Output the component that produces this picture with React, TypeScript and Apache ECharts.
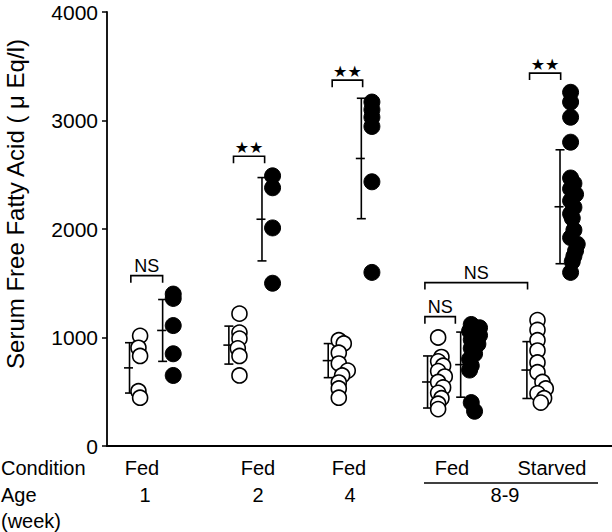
import React, { useEffect, useRef } from "react";
import * as echarts from "echarts";

// ---- data ----
const yTicks = [0, 1000, 2000, 3000, 4000];
const conditions = ["Fed", "Fed", "Fed", "Fed", "Starved"];
const ages = ["1", "2", "4", "8-9"];

// x positions (units) of each group's open (control) and filled columns
const openX = [1, 4, 7, 10, 13];
const filledX = [2, 5, 8, 11, 14];

const open1 = [1015, 905, 830, 505, 445];
const open2 = [1220, 1045, 990, 900, 830, 650];
const open3 = [975, 945, 860, 760, 695, 650, 585, 530, 445];
const open4 = [1000, 820, 780, 740, 690, 640, 590, 540, 490, 440, 390, 340];
const open5 = [1160, 1070, 975, 880, 770, 680, 590, 530, 485, 440, 400];

const filled1 = [1400, 1360, 1110, 850, 650];
const filled2 = [2490, 2380, 2010, 1500];
const filled3 = [3170, 3100, 3030, 2945, 2435, 1600];
const filled4 = [1120, 1090, 1060, 1020, 980, 940, 900, 850, 800, 740, 700, 400, 320];
const filled5 = [3260, 3170, 3030, 2800, 2470, 2420, 2370, 2320, 2260, 2200, 2140, 2100, 1990, 1920, 1860, 1800, 1750, 1700, 1600];

// small horizontal jitter (units) per point
const openJitter1 = [0, -0.05, 0, -0.05, 0];
const openJitter2 = [0, 0, 0, -0.05, 0, 0];
const openJitter3 = [0, 0.15, 0, 0, 0.27, 0.1, 0, 0, 0];
const openJitter4 = [0, 0.1, 0, 0.15, 0, 0.2, 0, 0.15, 0, 0.1, 0, 0];
const openJitter5 = [0, 0, 0, 0, 0, 0, 0.15, 0.25, 0, 0.2, 0.1];
const filledJitter4 = [0, 0.25, -0.05, 0.25, 0, 0.2, 0, 0.1, -0.05, 0, -0.05, 0, 0.1];
const filledJitter5 = [0, 0, 0, 0, 0, 0.1, 0, 0.15, 0, 0.1, 0, 0.05, 0.1, 0, 0.2, 0.15, 0.1, 0.05, 0];

const openGroups = [open1, open2, open3, open4, open5];
const filledGroups = [filled1, filled2, filled3, filled4, filled5];
const openJitters = [openJitter1, openJitter2, openJitter3, openJitter4, openJitter5];
const filledJitters = [null, null, null, filledJitter4, filledJitter5];

// mean and SD for each column
const openMean = [720, 930, 787, 590, 700];
const openSD = [232, 175, 157, 240, 262];
const filledMean = [1065, 2090, 2650, 750, 2205];
const filledSD = [285, 384, 555, 300, 525];

// significance brackets: [x1, x2, y, label]
const brackets: [number, number, number, string][] = [
  [0.72, 1.68, 1570, "NS"],
  [3.82, 4.76, 2670, "★★"],
  [6.8, 7.72, 3372, "★★"],
  [12.76, 13.7, 3437, "★★"],
  [9.6, 12.7, 1506, "NS"],
  [9.6, 10.52, 1192, "NS"],
];

const FONT = "'Liberation Sans', Arial, Helvetica, sans-serif";

export default function App() {
  const ref = useRef<HTMLDivElement>(null);
  useEffect(() => {
    if (!ref.current) return;
    const chart = echarts.init(ref.current, undefined, { renderer: "svg" });

    const openData: number[][] = [];
    openGroups.forEach((g, i) =>
      g.forEach((v, j) => openData.push([openX[i] + (openJitters[i]?.[j] ?? 0), v]))
    );
    const filledData: number[][] = [];
    filledGroups.forEach((g, i) =>
      g.forEach((v, j) => filledData.push([filledX[i] + (filledJitters[i]?.[j] ?? 0), v]))
    );
    const errOffset = -0.32;
    const errData: number[][] = [];
    openX.forEach((x, i) => errData.push([x + errOffset, openMean[i], openSD[i]]));
    filledX.forEach((x, i) => errData.push([x + errOffset, filledMean[i], filledSD[i]]));

    const lineStyle = { stroke: "#000", lineWidth: 1.6 };

    const condPx = [142, 258, 349, 452, 552];
    const agePx = [145, 258, 350, 505];
    const BF = `20px ${FONT}`;

    const graphic: any[] = [
      {
        type: "text",
        x: 15,
        y: 204,
        rotation: Math.PI / 2,
        style: {
          text: "Serum Free Fatty Acid ( μ Eq/l)",
          font: `24px ${FONT}`,
          fill: "#000",
          align: "center",
          verticalAlign: "middle",
        },
      },
      { type: "text", x: 1, y: 468, style: { text: "Condition", font: BF, fill: "#000", verticalAlign: "middle" } },
      { type: "text", x: 1, y: 495, style: { text: "Age", font: BF, fill: "#000", verticalAlign: "middle" } },
      { type: "text", x: 1, y: 521, style: { text: "(week)", font: BF, fill: "#000", verticalAlign: "middle" } },
      { type: "line", shape: { x1: 424, y1: 483, x2: 598, y2: 483 }, style: { stroke: "#000", lineWidth: 1.6 } },
    ];
    conditions.forEach((c, i) =>
      graphic.push({ type: "text", x: condPx[i], y: 468, style: { text: c, font: BF, fill: "#000", align: "center", verticalAlign: "middle" } })
    );
    ages.forEach((a, i) =>
      graphic.push({ type: "text", x: agePx[i], y: 495, style: { text: a, font: BF, fill: "#000", align: "center", verticalAlign: "middle" } })
    );

    chart.setOption({
      animation: false,
      backgroundColor: "#fff",
      grid: { left: 107, top: 12, right: 0, bottom: 86, containLabel: false },
      xAxis: [
        {
          type: "value",
          min: 0,
          max: 15.25,
          axisLine: { show: true, onZero: false, lineStyle: { color: "#000", width: 1.8 } },
          axisTick: { show: false },
          axisLabel: { show: false },
          splitLine: { show: false },
        },
        {
          type: "value",
          position: "top",
          min: 0,
          max: 15.25,
          axisLine: { show: true, lineStyle: { color: "#000", width: 1.6 } },
          axisTick: { show: false },
          axisLabel: { show: false },
          splitLine: { show: false },
        },
      ],
      yAxis: {
        type: "value",
        min: 0,
        max: 4000,
        interval: 1000,
        axisLine: { show: true, lineStyle: { color: "#000", width: 1.8 } },
        axisTick: { show: true, length: 5, lineStyle: { color: "#000", width: 1.5 } },
        axisLabel: {
          color: "#000",
          fontSize: 21,
          fontFamily: FONT,
          margin: 9,
          formatter: (v: number) => (yTicks.includes(v) ? String(v) : ""),
        },
        splitLine: { show: false },
      },
      graphic,
      series: [
        {
          type: "custom",
          name: "errorbars",
          z: 1,
          data: errData,
          renderItem: (params: any, api: any) => {
            const x = api.value(0);
            const m = api.value(1);
            const s = api.value(2);
            const top = api.coord([x, m + s]);
            const mid = api.coord([x, m]);
            const bot = api.coord([x, m - s]);
            const w = 4.5;
            return {
              type: "group",
              children: [
                { type: "line", shape: { x1: top[0], y1: top[1], x2: bot[0], y2: bot[1] }, style: lineStyle },
                { type: "line", shape: { x1: top[0] - w, y1: top[1], x2: top[0] + w, y2: top[1] }, style: lineStyle },
                { type: "line", shape: { x1: mid[0] - w - 1, y1: mid[1], x2: mid[0] + w - 1, y2: mid[1] }, style: lineStyle },
                { type: "line", shape: { x1: bot[0] - w, y1: bot[1], x2: bot[0] + w, y2: bot[1] }, style: lineStyle },
              ],
            };
          },
        },
        {
          type: "scatter",
          name: "Control",
          z: 3,
          symbol: "circle",
          symbolSize: 15,
          itemStyle: { color: "#fff", borderColor: "#000", borderWidth: 1.6, opacity: 1 },
          data: openData,
        },
        {
          type: "scatter",
          name: "Filled",
          z: 3,
          symbol: "circle",
          symbolSize: 16,
          itemStyle: { color: "#000", borderColor: "#000", borderWidth: 1, opacity: 1 },
          data: filledData,
        },
        {
          type: "custom",
          name: "brackets",
          z: 2,
          data: brackets.map((b) => [b[0], b[1], b[2], b[3]]),
          renderItem: (params: any, api: any) => {
            const b = brackets[params.dataIndex];
            const p1 = api.coord([b[0], b[2]]);
            const p2 = api.coord([b[1], b[2]]);
            const drop = 7;
            const isStar = b[3] !== "NS";
            return {
              type: "group",
              children: [
                {
                  type: "polyline",
                  shape: { points: [[p1[0], p1[1] + drop], [p1[0], p1[1]], [p2[0], p2[1]], [p2[0], p2[1] + drop]] },
                  style: { stroke: "#000", lineWidth: 1.6, fill: "none" },
                },
                {
                  type: "text",
                  x: (p1[0] + p2[0]) / 2,
                  y: p1[1] - (isStar ? 9 : 10),
                  style: {
                    text: b[3],
                    font: isStar ? `16px 'DejaVu Sans', sans-serif` : `18px ${FONT}`,
                    fill: "#000",
                    align: "center",
                    verticalAlign: "middle",
                  },
                },
              ],
            };
          },
        },
      ],
    });
    return () => chart.dispose();
  }, []);
  return <div ref={ref} style={{ position: "fixed", left: 0, top: 0, width: 612, height: 532, background: "#fff" }} />;
}
